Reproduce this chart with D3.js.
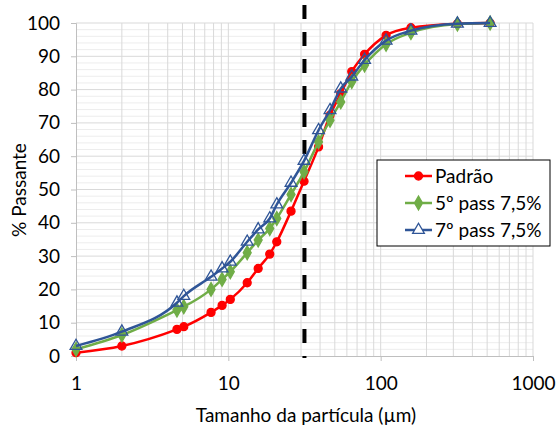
<!DOCTYPE html>
<html>
<head>
<meta charset="utf-8">
<script src="https://cdn.jsdelivr.net/npm/d3@7"></script>
<style>
  body { margin: 0; background: #fff; }
  svg, svg text { font-family: Lato, "Open Sans", sans-serif; }
</style>
</head>
<body>
<svg width="560" height="432"></svg>
<script>
// particle sizes (µm)
const sizes = [1, 2, 4.6, 5.1, 7.7, 9.1, 10.3, 13.3, 15.7, 18.7, 20.8, 25.8, 31.4, 39.1, 46.5, 54.7, 64.6, 78.4, 108.5, 158, 319, 523];
const padrao = [1.0, 3.0, 8.0, 8.8, 13.1, 15.2, 17.0, 22.0, 26.3, 30.6, 34.3, 43.5, 52.5, 62.8, 72.3, 78.8, 85.4, 90.6, 96.3, 98.6, 99.8, 100];
const pass5 = [2.0, 6.3, 13.8, 14.8, 20.0, 23.0, 25.3, 31.0, 34.8, 38.3, 41.3, 48.5, 55.3, 64.3, 70.8, 76.3, 82.4, 87.4, 93.6, 97.1, 99.7, 100];
const pass7 = [3.0, 7.3, 16.0, 18.0, 23.8, 26.3, 28.3, 34.3, 38.0, 41.3, 45.5, 52.0, 58.6, 67.8, 73.8, 80.3, 83.9, 88.9, 94.7, 97.7, 99.8, 100];
const seriesNames = ["Padrão", "5º pass 7,5%", "7º pass 7,5%"];
const xTicks = [1, 10, 100, 1000];
const yTicks = [0, 10, 20, 30, 40, 50, 60, 70, 80, 90, 100];
const cutSize = 31.6; // dashed reference line

const svg = d3.select('svg');
const margin = { top: 23, right: 27, bottom: 76, left: 76 };
const innerWidth = 560 - margin.left - margin.right;
const innerHeight = 432 - margin.top - margin.bottom;
const fontFam = 'Lato, "Open Sans", sans-serif';

const xScale = d3.scaleLog().domain([1, 1000]).range([0, innerWidth]);
const yScale = d3.scaleLinear().domain([0, 100]).range([innerHeight, 0]);

const g = svg.append('g')
    .attr('transform', `translate(${margin.left}, ${margin.top})`);

// minor horizontal gridlines every 2 %
g.append('g')
    .selectAll('line')
    .data(d3.range(0, 101, 2).filter(v => v % 10 !== 0))
    .join('line')
    .attr('x1', 0).attr('x2', innerWidth)
    .attr('y1', d => yScale(d)).attr('y2', d => yScale(d))
    .attr('stroke', '#ededed');

// major horizontal gridlines
g.append('g')
    .selectAll('line')
    .data(yTicks.slice(1))
    .join('line')
    .attr('x1', 0).attr('x2', innerWidth)
    .attr('y1', d => yScale(d)).attr('y2', d => yScale(d))
    .attr('stroke', '#d9d9d9');

// vertical gridlines (log minor + decades)
const vLines = [];
[1, 10, 100].forEach(dec => { for (let k = 2; k <= 10; k++) vLines.push(dec * k); });
g.append('g')
    .selectAll('line')
    .data(vLines)
    .join('line')
    .attr('x1', d => xScale(d)).attr('x2', d => xScale(d))
    .attr('y1', 0).attr('y2', innerHeight)
    .attr('stroke', '#d9d9d9');

// y axis
const yAxis = g.append('g')
    .call(d3.axisLeft(yScale).tickValues(yTicks).tickSize(5).tickPadding(11))
    .attr('font-family', fontFam)
    .attr('font-size', 19);
yAxis.select('.domain').attr('stroke', '#bfbfbf');
yAxis.selectAll('.tick line').attr('stroke', '#bfbfbf');
yAxis.selectAll('text').attr('fill', '#000');

// x axis
const xAxis = g.append('g')
    .attr('transform', `translate(0, ${innerHeight})`)
    .call(d3.axisBottom(xScale).tickValues(xTicks).tickFormat(d3.format('d')).tickSize(5).tickPadding(16))
    .attr('font-family', fontFam)
    .attr('font-size', 19);
xAxis.select('.domain').attr('stroke', '#bfbfbf');
xAxis.selectAll('.tick line').attr('stroke', '#bfbfbf');
xAxis.selectAll('text').attr('fill', '#000');

// axis titles
svg.append('text')
    .attr('x', 306)
    .attr('y', 422)
    .attr('text-anchor', 'middle')
    .attr('font-size', 19)
    .text('Tamanho da partícula (µm)');

svg.append('text')
    .attr('transform', 'translate(26, 190) rotate(-90)')
    .attr('text-anchor', 'middle')
    .attr('font-size', 19)
    .text('% Passante');

// dashed cut line
g.append('line')
    .attr('x1', xScale(cutSize)).attr('x2', xScale(cutSize))
    .attr('y1', -18).attr('y2', innerHeight + 2)
    .attr('stroke', '#000')
    .attr('stroke-width', 4)
    .attr('stroke-dasharray', '14,13');

// series
const data = [
    { name: seriesNames[0], values: padrao, color: '#ff0000', symbol: d3.symbolCircle, size: 50, fill: '#ff0000' },
    { name: seriesNames[1], values: pass5, color: '#70ad47', symbol: d3.symbolDiamond, size: 55, fill: '#70ad47' },
    { name: seriesNames[2], values: pass7, color: '#2f5597', symbol: d3.symbolTriangle, size: 60, fill: 'none' }
];

const line = d3.line()
    .x((d, i) => xScale(sizes[i]))
    .y(d => yScale(d))
    .curve(d3.curveMonotoneX);

data.forEach(s => {
    const sg = g.append('g');
    sg.append('path')
        .datum(s.values)
        .attr('d', line)
        .attr('fill', 'none')
        .attr('stroke', s.color)
        .attr('stroke-width', 2.5);
    sg.selectAll('path.pt')
        .data(s.values)
        .join('path')
        .attr('class', 'pt')
        .attr('transform', (d, i) => `translate(${xScale(sizes[i])}, ${yScale(d)})`)
        .attr('d', d3.symbol().type(s.symbol).size(s.size))
        .attr('fill', s.fill)
        .attr('stroke', s.color)
        .attr('stroke-width', 1.3);
});

// legend
const legend = svg.append('g').attr('transform', 'translate(377, 160)');
legend.append('rect')
    .attr('width', 173).attr('height', 86)
    .attr('fill', '#fff')
    .attr('stroke', '#000')
    .attr('stroke-width', 1);

const items = legend.selectAll('g.item')
    .data(data)
    .join('g')
    .attr('class', 'item')
    .attr('transform', (d, i) => `translate(0, ${16 + i * 27})`);
items.append('line')
    .attr('x1', 28).attr('x2', 55)
    .attr('stroke', d => d.color)
    .attr('stroke-width', 2.5);
items.append('path')
    .attr('transform', 'translate(41.5, 0)')
    .attr('d', d => d3.symbol().type(d.symbol).size(d.size)())
    .attr('fill', d => d.fill === 'none' ? '#fff' : d.fill)
    .attr('stroke', d => d.color)
    .attr('stroke-width', 1.3);
items.append('text')
    .attr('x', 58)
    .attr('dy', '0.35em')
    .attr('font-size', 19)
    .text(d => d.name);
</script>
</body>
</html>
